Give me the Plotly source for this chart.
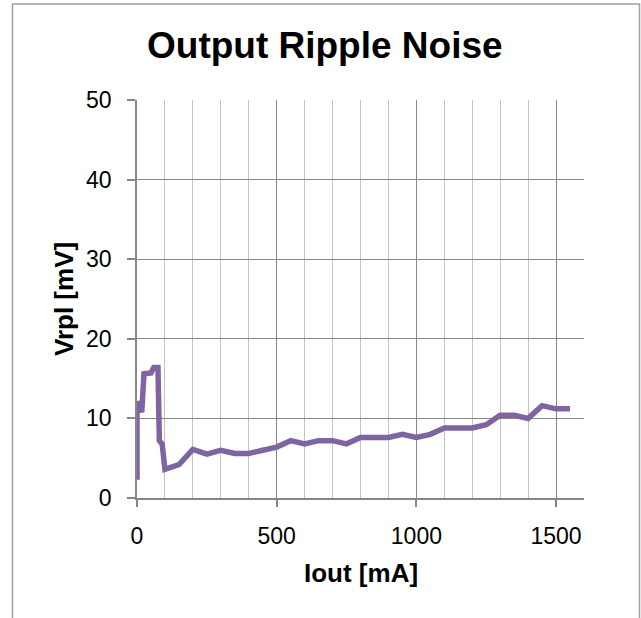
import plotly.graph_objects as go

# Data
iout = [0, 0, 17, 25, 50, 60, 75, 80, 90, 100, 150, 200, 250, 300, 350, 400, 450,
        500, 550, 600, 650, 700, 750, 800, 850, 900, 950, 1000, 1050, 1100, 1150,
        1200, 1250, 1300, 1350, 1400, 1450, 1500, 1550]
vrpl = [2.3, 12.1, 10.8, 15.6, 15.7, 16.4, 16.4, 7.2, 6.8, 3.6, 4.2, 6.1, 5.5, 6.0,
        5.6, 5.6, 6.0, 6.4, 7.2, 6.8, 7.2, 7.2, 6.8, 7.6, 7.6, 7.6, 8.0, 7.6, 8.0,
        8.8, 8.8, 8.8, 9.2, 10.4, 10.4, 10.0, 11.6, 11.2, 11.2]

title_text = "Output Ripple Noise"
x_title = "Iout [mA]"
y_title = "Vrpl [mV]"

W, H = 641, 618
L, R, T, B = 137, 584, 100, 498  # plot area in pixels
pw, ph = R - L, B - T

def px(xp):
    return (xp - L) / pw

def py(yp):
    return (B - yp) / ph

FONT = "Arial, Liberation Sans, sans-serif"
MAJOR = "#878787"
MINOR = "#c3c3c3"

fig = go.Figure()
fig.add_trace(go.Scatter(x=iout, y=vrpl, mode="lines",
                         line=dict(color="#8064A2", width=5.5),
                         showlegend=False, hoverinfo="skip"))

fig.update_layout(
    width=W, height=H,
    margin=dict(l=L, r=W - R, t=T, b=H - B, pad=0),
    paper_bgcolor="white", plot_bgcolor="white",
    font=dict(family=FONT, color="black", size=23),
    xaxis=dict(range=[0, 1600], dtick=500, tick0=0, showgrid=True,
               gridcolor=MAJOR, gridwidth=1, zeroline=False,
               showline=True, linecolor=MAJOR, linewidth=1.5,
               ticks="outside", ticklen=7, tickcolor=MAJOR, tickwidth=1.5,
               ticklabelstandoff=10,
               tickfont=dict(size=23, family=FONT, color="black"),
               minor=dict(dtick=100, tick0=0, showgrid=True, gridcolor=MINOR,
                          gridwidth=1, ticks="")),
    yaxis=dict(range=[0, 50], dtick=10, tick0=0, showgrid=True,
               gridcolor=MAJOR, gridwidth=1, zeroline=False,
               showline=True, linecolor=MAJOR, linewidth=1.5,
               ticks="outside", ticklen=8, tickcolor=MAJOR, tickwidth=1.5,
               ticklabelstandoff=11,
               tickfont=dict(size=23, family=FONT, color="black")),
    annotations=[
        dict(text="<b>%s</b>" % title_text, x=px(325), y=py(46), xref="paper", yref="paper",
             xanchor="center", yanchor="middle", showarrow=False,
             font=dict(size=37, family=FONT, color="black")),
        dict(text="<b>%s</b>" % x_title, x=px(361), y=py(573), xref="paper", yref="paper",
             xanchor="center", yanchor="middle", showarrow=False,
             font=dict(size=26, family=FONT, color="black")),
        dict(text="<b>%s</b>" % y_title, x=px(64), y=py(299), xref="paper", yref="paper",
             xanchor="center", yanchor="middle", showarrow=False, textangle=-90,
             font=dict(size=26, family=FONT, color="black")),
    ],
    shapes=[
        dict(type="rect", xref="paper", yref="paper",
             x0=px(12.5), x1=px(639.5), y0=py(640), y1=py(4),
             line=dict(color="#a0a0a0", width=1.5), fillcolor="rgba(0,0,0,0)",
             layer="below"),
    ],
)

fig.write_html("out.html", config={"displayModeBar": False},
               post_script="document.body.style.margin='0';document.body.style.overflow='hidden';")
